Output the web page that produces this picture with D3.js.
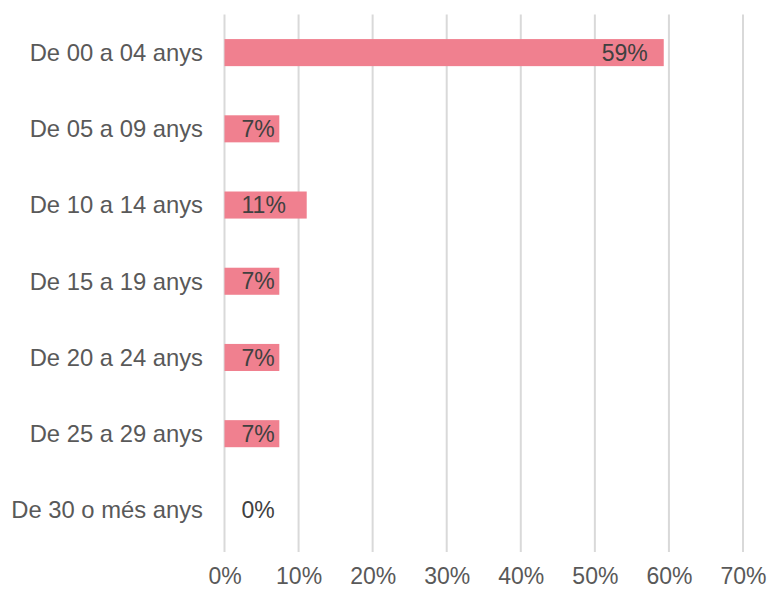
<!DOCTYPE html>
<html>
<head>
<meta charset="utf-8">
<script src="https://cdn.jsdelivr.net/npm/d3@7"></script>
<style>
  html, body { margin: 0; padding: 0; background: #fff; }
  svg { display: block; font-family: "Liberation Sans", Arial, sans-serif; }
</style>
</head>
<body>
<svg id="chart" width="770" height="589"></svg>
<script>
// Age groups and their share of the total
const categories = [
  "De 00 a 04 anys",
  "De 05 a 09 anys",
  "De 10 a 14 anys",
  "De 15 a 19 anys",
  "De 20 a 24 anys",
  "De 25 a 29 anys",
  "De 30 o més anys"
];
const shares = [0.593, 0.074, 0.111, 0.074, 0.074, 0.074, 0];
const tickValues = [0, 0.1, 0.2, 0.3, 0.4, 0.5, 0.6, 0.7];

const data = categories.map((c, i) => ({ category: c, value: shares[i] }));

const svg = d3.select("#chart");
const margin = { top: 14.5, left: 224.5 };
const plotBottom = 548;

const x = d3.scaleLinear().domain([0, 0.7]).range([margin.left, margin.left + 518.5]);
const y = d3.scaleBand()
  .domain(categories)
  .range([margin.top, plotBottom])
  .paddingInner(0.645)
  .paddingOuter(0.3225);

const fmt = d3.format(".0%");
const fontSize = 23;
const catFontSize = 23.8;

// vertical gridlines
svg.append("g")
  .selectAll("line")
  .data(tickValues)
  .join("line")
  .attr("x1", d => x(d)).attr("x2", d => x(d))
  .attr("y1", margin.top).attr("y2", plotBottom + 4)
  .attr("stroke", "#d9d9d9")
  .attr("stroke-width", 2);

// x axis labels
const xAxis = d3.axisBottom(x).tickValues(tickValues).tickFormat(fmt).tickSize(0).tickPadding(0);
const gx = svg.append("g").attr("transform", `translate(0, 584)`).call(xAxis);
gx.select(".domain").remove();
gx.selectAll("text")
  .attr("dy", 0)
  .attr("y", 0)
  .attr("fill", "#595959")
  .style("font-size", fontSize + "px")
  .style("font-family", '"Liberation Sans", Arial, sans-serif');

// category labels
const yAxis = d3.axisLeft(y).tickSize(0).tickPadding(0);
const gy = svg.append("g").attr("transform", `translate(203, 0)`).call(yAxis);
gy.select(".domain").remove();
gy.selectAll("text")
  .attr("fill", "#595959")
  .attr("dy", "0.35em")
  .style("font-size", catFontSize + "px")
  .style("font-family", '"Liberation Sans", Arial, sans-serif');

// bars
svg.append("g")
  .selectAll("rect")
  .data(data)
  .join("rect")
  .attr("x", x(0))
  .attr("y", d => y(d.category))
  .attr("width", d => x(d.value) - x(0))
  .attr("height", y.bandwidth())
  .attr("fill", "#F0808F");

// value labels: inside the end of long bars, just past the axis for short ones
svg.append("g")
  .selectAll("text")
  .data(data)
  .join("text")
  .attr("x", d => (x(d.value) - x(0) > 100 ? x(d.value) - 16 : x(0) + 17))
  .attr("text-anchor", d => (x(d.value) - x(0) > 100 ? "end" : "start"))
  .attr("y", d => y(d.category) + y.bandwidth() / 2)
  .attr("dy", "0.35em")
  .attr("fill", "#404040")
  .style("font-size", fontSize + "px")
  .text(d => fmt(d.value));
</script>
</body>
</html>
